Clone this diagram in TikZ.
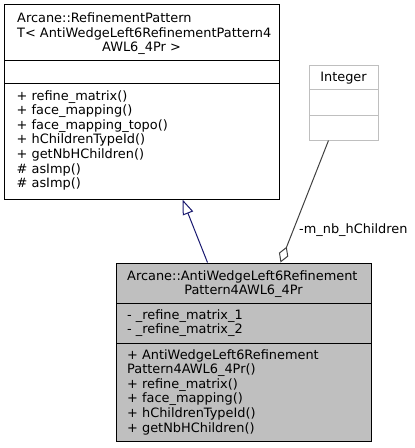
\documentclass[tikz,border=0pt]{standalone}
\usepackage{fontspec}
\setmainfont{DejaVu Sans}
\usetikzlibrary{arrows.meta}
\definecolor{boxgray}{HTML}{BFBFBF}
\definecolor{intgray}{HTML}{BFBFBF}
\definecolor{inhblue}{HTML}{191970}
\definecolor{aggline}{HTML}{404040}
\tikzset{
  umlbox/.style={draw=black, line width=1pt, rectangle, inner sep=0pt},
  txt/.style={inner sep=0pt, anchor=base west, font=\fontsize{12.9}{14.5}\selectfont},
  ctxt/.style={inner sep=0pt, anchor=base, font=\fontsize{12.9}{14.5}\selectfont},
  lst/.style={inner sep=0pt, anchor=north west, align=left, font=\fontsize{12.9}{14.6}\selectfont},
  sep/.style={line width=1pt},
  inh/.style={draw=inhblue, line width=1pt, -{Triangle[open, length=15pt, width=11pt]}},
  agg/.style={draw=aggline, line width=1pt, -{Diamond[open, length=17pt, width=10pt]}},
}
\begin{document}
\begin{tikzpicture}[x=1pt,y=-1pt]
\useasboundingbox (0,0) rectangle (415,448);
% base class box
\node[umlbox, minimum width=275pt, minimum height=195pt] (base) at (141.5,101.5) {};
\draw[sep] (4,60) -- (279,60);
\draw[sep] (4,83) -- (279,83);
\node[txt] (bt1) at (17,22) {Arcane::RefinementPattern};
\node[txt] (bt2) at (17,37) {T< AntiWedgeLeft6RefinementPattern4};
\node[ctxt] (bt3) at (141.5,51.5) {AWL6\_4Pr >};
\node[lst] (bm) at (16.5,90) {+ refine\_matrix()\\+ face\_mapping()\\+ face\_mapping\_topo()\\+ hChildrenTypeId()\\+ getNbHChildren()\\\# asImp()\\\# asImp()};
% Integer box
\node[umlbox, draw=intgray, minimum width=69pt, minimum height=75pt] (int) at (343.5,102.5) {};
\draw[sep, draw=intgray] (309,89) -- (378,89);
\draw[sep, draw=intgray] (309,115) -- (378,115);
\node[ctxt] (it) at (343.5,81.5) {Integer};
% derived class box
\node[umlbox, fill=boxgray, minimum width=255pt, minimum height=178pt] (der) at (243.5,352) {};
\draw[sep] (116,303) -- (371,303);
\draw[sep] (116,343) -- (371,343);
\node[txt] (dt1) at (127,280) {Arcane::AntiWedgeLeft6Refinement};
\node[ctxt] (dt2) at (243.5,294.5) {Pattern4AWL6\_4Pr};
\node[lst] (da) at (127,309) {- \_refine\_matrix\_1\\- \_refine\_matrix\_2};
\node[lst] (dm) at (127,349) {+ AntiWedgeLeft6Refinement\\Pattern4AWL6\_4Pr()\\+ refine\_matrix()\\+ face\_mapping()\\+ hChildrenTypeId()\\+ getNbHChildren()};
% connectors
\coordinate (dinh) at ([xshift=92pt]der.north west);
\coordinate (binh) at ([xshift=179pt]base.south west);
\coordinate (iagg) at ([xshift=20pt]int.south west);
\coordinate (dagg) at ([xshift=165pt]der.north west);
\draw[inh] (dinh) -- (binh);
\draw[agg] (iagg) -- (dagg);
\node[txt, anchor=west] (lbl) at (299,230) {-m\_nb\_hChildren};
\end{tikzpicture}
\end{document}
